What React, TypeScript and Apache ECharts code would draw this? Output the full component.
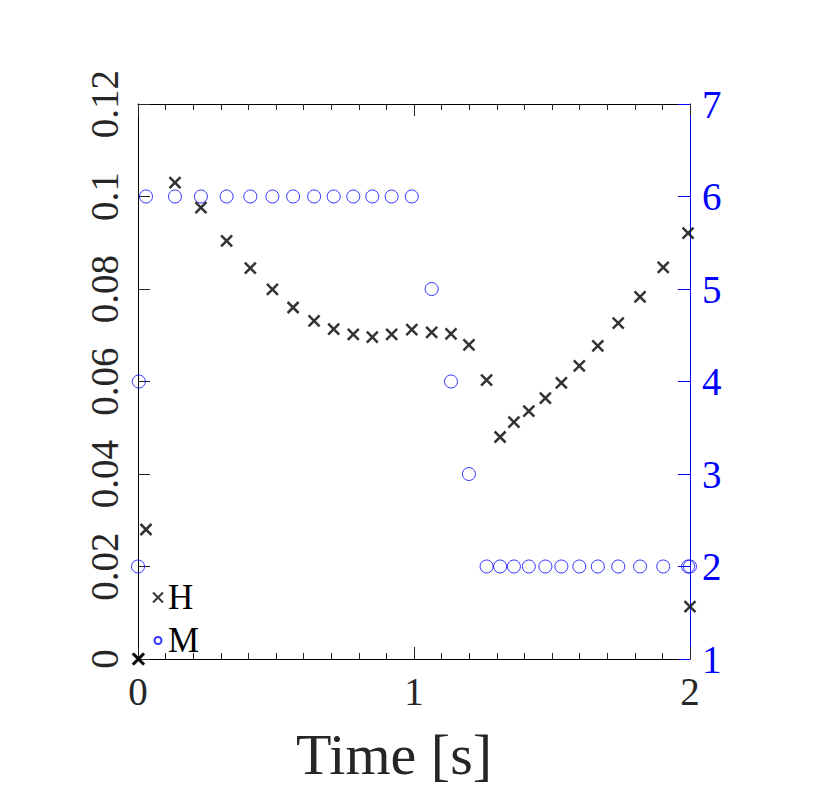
import React, { useEffect, useRef } from "react";
import * as echarts from "echarts";

const timeS = [0, 0.003, 0.029, 0.134, 0.228, 0.321, 0.407, 0.487, 0.562, 0.638, 0.709, 0.78, 0.849, 0.919, 0.992, 1.064, 1.134, 1.199, 1.263, 1.312, 1.362, 1.416, 1.476, 1.534, 1.599, 1.666, 1.74, 1.819, 1.903, 1.993, 2.0];
const hValues = [0, 0, 0.028, 0.103, 0.0976, 0.0904, 0.0845, 0.0799, 0.076, 0.0731, 0.0713, 0.0702, 0.0696, 0.0702, 0.0712, 0.0706, 0.0703, 0.0679, 0.0603, 0.048, 0.0512, 0.0536, 0.0564, 0.0597, 0.0634, 0.0677, 0.0726, 0.0783, 0.0847, 0.0921, 0.0113];
const mValues = [2, 4, 6, 6, 6, 6, 6, 6, 6, 6, 6, 6, 6, 6, 6, 5, 4, 3, 2, 2, 2, 2, 2, 2, 2, 2, 2, 2, 2, 2, 2];
const xTicks = [0, 1, 2];
const leftTicks = [0, 0.02, 0.04, 0.06, 0.08, 0.1, 0.12];
const rightTicks = [1, 2, 3, 4, 5, 6, 7];

const CROSS = "path://M0,0L10,10M10,0L0,10";
const SMALL_CIRCLE = "path://M0,0M10,10M5,1.5A3.5,3.5,0,1,1,5,8.5A3.5,3.5,0,1,1,5,1.5Z";
const FONT = "Liberation Serif";
const TXT = "#262626";
const BLUE = "#0000ff";

export default function App() {
  const ref = useRef<HTMLDivElement>(null);
  useEffect(() => {
    if (!ref.current) return;
    const chart = echarts.init(ref.current, null, { renderer: "svg" });
    const hData = timeS.map((t, i) => [t, hValues[i]]);
    const mData = timeS.map((t, i) => [t, mValues[i]]);
    chart.setOption({
      animation: false,
      backgroundColor: "#fff",
      grid: { left: 138, right: 140, top: 104, bottom: 139 },
      legend: {
        orient: "vertical",
        left: 147,
        top: 575,
        itemWidth: 10,
        itemHeight: 10,
        itemGap: 8,
        textStyle: { fontFamily: FONT, fontSize: 35, color: "#000", lineHeight: 34 },
        data: [
          { name: "H", icon: CROSS },
          { name: "M", icon: SMALL_CIRCLE },
        ],
      },
      xAxis: [
        {
          type: "value",
          min: xTicks[0],
          max: xTicks[xTicks.length - 1],
          interval: 1,
          position: "bottom",
          name: "Time [s]",
          nameLocation: "middle",
          nameGap: 66,
          nameTextStyle: { fontFamily: FONT, fontSize: 58, color: TXT, padding: [0, 40, 0, 0] },
          axisLine: { show: true, onZero: false, lineStyle: { color: "#000", width: 1 } },
          axisTick: { show: true, inside: true, length: 12, lineStyle: { color: TXT } },
          minorTick: { show: true, splitNumber: 10, length: 6, lineStyle: { color: TXT } },
          axisLabel: { fontFamily: FONT, fontSize: 39, color: TXT, margin: 13 },
          splitLine: { show: false },
        },
        {
          type: "value",
          min: xTicks[0],
          max: xTicks[xTicks.length - 1],
          interval: 1,
          position: "top",
          axisLine: { show: true, onZero: false, lineStyle: { color: "#000", width: 1 } },
          axisTick: { show: true, inside: true, length: 12, lineStyle: { color: TXT } },
          minorTick: { show: true, splitNumber: 10, length: 6, lineStyle: { color: TXT } },
          axisLabel: { show: false },
          splitLine: { show: false },
        },
      ],
      yAxis: [
        {
          type: "value",
          min: leftTicks[0],
          max: leftTicks[leftTicks.length - 1],
          interval: 0.02,
          position: "left",
          axisLine: { show: true, onZero: false, lineStyle: { color: "#000", width: 1 } },
          axisTick: { show: true, inside: true, length: 12, lineStyle: { color: TXT } },
          axisLabel: {
            fontFamily: FONT,
            fontSize: 39,
            color: TXT,
            rotate: 90,
            margin: 14,
            formatter: (v: number) => String(Math.round(v * 100) / 100),
          },
          splitLine: { show: false },
        },
        {
          type: "value",
          min: rightTicks[0],
          max: rightTicks[rightTicks.length - 1],
          interval: 1,
          position: "right",
          axisLine: { show: true, onZero: false, lineStyle: { color: BLUE, width: 1 } },
          axisTick: { show: true, inside: true, length: 12, lineStyle: { color: BLUE } },
          axisLabel: { fontFamily: FONT, fontSize: 39, color: BLUE, margin: 12 },
          splitLine: { show: false },
        },
      ],
      series: [
        {
          name: "M",
          type: "scatter",
          xAxisIndex: 0,
          yAxisIndex: 1,
          data: mData,
          symbol: "circle",
          symbolSize: 13,
          clip: false,
          itemStyle: { color: "rgba(0,0,0,0)", borderColor: BLUE, borderWidth: 1 },
          z: 2,
        },
        {
          name: "H",
          type: "scatter",
          xAxisIndex: 0,
          yAxisIndex: 0,
          data: hData,
          symbol: CROSS,
          symbolSize: 11,
          clip: false,
          itemStyle: { color: "rgba(0,0,0,0)", borderColor: "#000", borderWidth: 2.5 },
          z: 3,
        },
      ],
    });
    return () => chart.dispose();
  }, []);
  return (
    <div
      ref={ref}
      style={{ position: "fixed", left: 0, top: 0, width: 830, height: 798, background: "#fff" }}
    />
  );
}
